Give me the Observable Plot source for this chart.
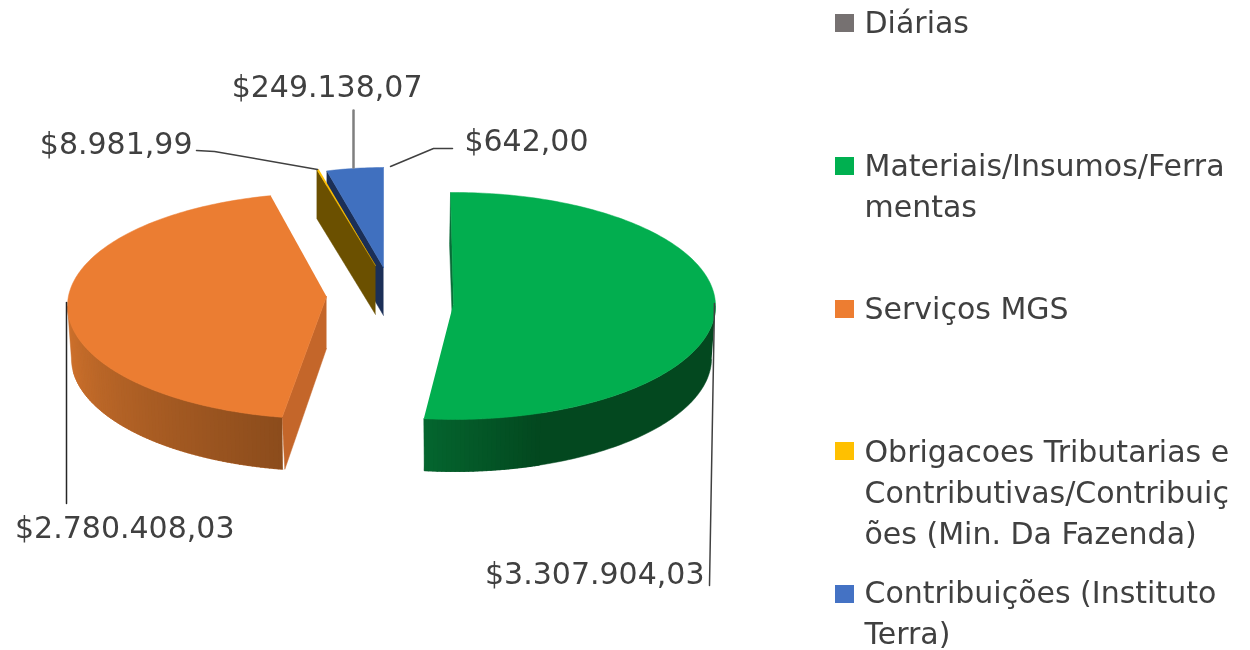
<!DOCTYPE html>
<html>
<head>
<meta charset="utf-8">
<script src="https://cdn.jsdelivr.net/npm/d3@7"></script>
<script src="https://cdn.jsdelivr.net/npm/@observablehq/plot@0.6"></script>
<style>
html,body{margin:0;padding:0;background:#fff}
svg{display:block;filter:blur(0.5px)}
</style>
</head>
<body>
<div id="chart"></div>
<script>
// ---- data ----
const categories = ["Diárias","Materiais/Insumos/Ferramentas","Serviços MGS","Obrigacoes Tributarias e Contributivas/Contribuições (Min. Da Fazenda)","Contribuições (Instituto Terra)"];
const values = [642.00, 3307904.03, 2780408.03, 8981.99, 249138.07];
const valueLabels = ["$642,00","$3.307.904,03","$2.780.408,03","$8.981,99","$249.138,07"];
const legendLines = [
  ["Diárias"],
  ["Materiais/Insumos/Ferra","mentas"],
  ["Serviços MGS"],
  ["Obrigacoes Tributarias e","Contributivas/Contribuiç","ões (Min. Da Fazenda)"],
  ["Contribuições (Instituto","Terra)"]
];
const colors = ["#767171","#00B050","#ED7D31","#FFC000","#4472C4"];

// ---- layout: exploded-slice placement and perspective of the 3D pie ----
const topColors = ["#4070BF","#02AE4F","#EB7D32","#FFC000","#4070BF"];
const faceColors = ["#1B2F57","#0B6B38","#C4662A","#6B5000","#1B2F57"];
const rimStops = [null,["#04662F","#03481F"],["#8C4C1C","#CC702C"],null,null];
const apexX = [383,453,326,375,383];
const apexY = [267,303,296,265,267];
const rimX = [383,454,326,375,383];
const rimY = [280,305.5,305.5,278.5,280];
const radX = [232,261,259,232,232];
const radY = [113,113.5,113,113,113];
const turn = [0,-0.9,2.2,0,0];
const depth = [48,52,52,49,48];
const legendSwatchY = [23,166,309,451,594];
const legendBaselines = [32,175,318,461,602];
const lineStep = 41;
const labelX = [588,704,234,192,422];
const labelY = [150,583,537,153,96];
const leaders = [
  [[390,166],[433,148],[452,148]],
  [[714,303],[709,585]],
  [[66,302],[66,503]],
  [[196,150],[214,151],[317,169]],
  [[353,110],[353,167]]
];
const leaderColor = ["#404040","#404040","#262626","#404040","#7f7f7f"];
const leaderWidth = [1.5,1.5,1.5,1.5,2.5];

// ---- geometry from the values ----
const pie = d3.pie().sort(null).startAngle(0).endAngle(2*Math.PI)(values);
const rad = d => d*Math.PI/180;
const rimPt = (i,deg,down=0) => {
  const k = down ? 0.985 : 1;
  return [rimX[i]+radX[i]*k*Math.sin(rad(deg)), rimY[i]-radY[i]*Math.cos(rad(deg))+down];
};
const polys = [];
let pid = 0;
const addPoly = (pts,color) => { const id = pid++; pts.forEach(p => polys.push({id,x:p[0],y:p[1],color})); };
const drawOrder = [0,1,2,4,3];
const deg = pie.map((s,i)=>[s.startAngle*180/Math.PI+turn[i], s.endAngle*180/Math.PI+turn[i]]);

// radial faces first
[1,2,4,3].forEach(i=>{
  const [a0,a1] = deg[i], d = depth[i];
  const A=[apexX[i],apexY[i]], Ad=[apexX[i],apexY[i]+d];
  if(i===1){ const r=rimPt(i,a0); addPoly([A,r,[r[0]-1,r[1]+d],Ad],faceColors[i]); }
  if(i===2){ const r=rimPt(i,a0), rd=rimPt(i,a0,d); addPoly([A,r,[rd[0]+2,rd[1]],Ad],faceColors[i]); }
  if(i>=3){ const r=rimPt(i,a0); addPoly([A,r,[r[0],r[1]+d],Ad],faceColors[i]); }
});
// outer rim: a flat base, then gradient bands where the shade changes
[1,2].forEach(i=>{
  const [a0,a1]=deg[i];
  const from = i===1?90:a0, to = i===1?a1:270;
  const ramp = d3.interpolateRgb(rimStops[i][0],rimStops[i][1]);
  const base=[];
  for(let t=from;t<=to;t+=1) base.push(rimPt(i,t));
  for(let t=to;t>=from;t-=1) base.push(rimPt(i,t,depth[i]));
  addPoly(base,rimStops[i][1]);
  const span = i===1 ? 26 : 72;
  const bandFrom = i===1? a1-span : from;
  const bandTo = i===1? to : 262;
  for(let t=bandFrom;t<bandTo;t+=1){
    const e=Math.min(t+1.2,to);
    const f = i===1 ? Math.min(1,Math.max(0,(a1-t)/span)) : Math.min(1,(t-a0)/span);
    addPoly([rimPt(i,t),rimPt(i,e),rimPt(i,e,depth[i]),rimPt(i,t,depth[i])],ramp(f));
  }
});
// top faces
drawOrder.forEach(i=>{
  const [a0,a1]=deg[i];
  const pts=[[apexX[i],apexY[i]]];
  const n=Math.max(1,Math.ceil(a1-a0));
  for(let j=0;j<=n;j++) pts.push(rimPt(i,a0+(a1-a0)*j/n));
  addPoly(pts,topColors[i]);
});

const leaderRows = leaders.flatMap((l,i)=>l.map(p=>({id:i,x:p[0],y:p[1],c:leaderColor[i],w:leaderWidth[i]})));
const labelRows = valueLabels.map((t,i)=>({t,x:labelX[i],y:labelY[i]}));
const legendRows = legendLines.flatMap((ls,i)=>ls.map((t,j)=>({t,y:legendBaselines[i]+j*lineStep})));
const swatchRows = categories.map((c,i)=>({c,y:legendSwatchY[i],color:colors[i]}));

const fontFamily = "'DejaVu Sans', sans-serif";
const chart = Plot.plot({
  width:1250, height:650,
  marginTop:0, marginRight:0, marginBottom:0, marginLeft:0,
  x:{axis:null, domain:[0,1250], range:[0,1250]},
  y:{axis:null, domain:[0,650], range:[0,650]},
  style:{background:"#fff"},
  marks:[
    Plot.line(polys,{x:"x",y:"y",z:"id",fill:{value:"color",scale:null},stroke:{value:"color",scale:null},strokeWidth:0.5,curve:"linear"}),
    ...d3.groups(leaderRows,d=>d.id).map(([id,rows])=>Plot.line(rows,{x:"x",y:"y",stroke:rows[0].c,strokeWidth:rows[0].w,curve:"linear"})),
    Plot.text(labelRows,{x:"x",y:"y",text:"t",textAnchor:"end",lineAnchor:"bottom",fontSize:30,fill:"#404040",fontFamily}),
    Plot.rect(swatchRows,{x1:()=>835,x2:()=>854,y1:d=>d.y-9,y2:d=>d.y+9,fill:{value:"color",scale:null}}),
    Plot.text(legendRows,{x:()=>864,y:"y",text:"t",textAnchor:"start",lineAnchor:"bottom",fontSize:30,fill:"#404040",fontFamily})
  ]
});
document.getElementById("chart").appendChild(chart);
</script>
</body>
</html>
